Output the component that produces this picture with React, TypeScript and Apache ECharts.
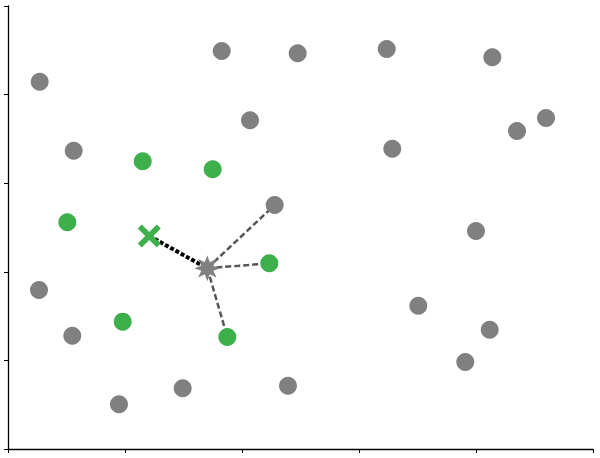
import React, { useEffect, useRef } from "react";
import * as echarts from "echarts";

const grayPoints: number[][] = [
  [0.542, 8.291], [3.653, 8.984], [4.952, 8.932], [4.137, 7.42], [1.123, 6.734],
  [4.559, 5.508], [6.474, 9.029], [8.279, 8.842], [6.569, 6.779], [8.701, 7.178],
  [9.197, 7.472], [8.0, 4.921], [0.53, 3.589], [1.099, 2.558], [2.986, 1.37],
  [1.897, 1.009], [4.786, 1.429], [7.014, 3.235], [8.234, 2.693], [7.817, 1.964],
];
const greenPoints: number[][] = [
  [2.303, 6.494], [3.499, 6.314], [1.014, 5.117], [4.467, 4.192], [1.961, 2.875], [3.749, 2.528],
];
const queryPoint: number[] = [2.415, 4.808];
const starPoint: number[] = [3.407, 4.079];
const neighbors: number[][] = [[4.559, 5.508], [4.467, 4.192], [3.749, 2.528]];

const xTicks = [0, 2, 4, 6, 8, 10];
const yTicks = [0, 2, 4, 6, 8, 10];

function starPath(n: number, rOut: number, rIn: number): string {
  const pts: string[] = [];
  for (let i = 0; i < 2 * n; i++) {
    const r = i % 2 === 0 ? rOut : rIn;
    const a = -Math.PI / 2 + (i * Math.PI) / n;
    pts.push(`${(10 + r * Math.cos(a)).toFixed(3)} ${(10 + r * Math.sin(a)).toFixed(3)}`);
  }
  return "path://M" + pts.join(" L") + " Z";
}

function xPath(d: number): string {
  const v = [
    [-1, -1 + d], [-1 + d, -1], [0, -d], [1 - d, -1], [1, -1 + d], [d, 0],
    [1, 1 - d], [1 - d, 1], [0, d], [-1 + d, 1], [-1, 1 - d], [-d, 0],
  ];
  return "path://M" + v.map((p) => `${(p[0] + 1) * 10} ${(p[1] + 1) * 10}`).join(" L") + " Z";
}

export default function App() {
  const ref = useRef<HTMLDivElement>(null);
  useEffect(() => {
    if (!ref.current) return;
    const chart = echarts.init(ref.current, null, { renderer: "svg" });
    const axisCommon = {
      min: 0,
      max: 10,
      interval: 2,
      axisLine: { show: true, lineStyle: { color: "#000", width: 1.3 } },
      axisTick: { show: true, length: 4, lineStyle: { color: "#000", width: 1 } },
      axisLabel: { show: false },
      splitLine: { show: false },
    };
    const lineData = neighbors.map((n) => [starPoint, n]);
    chart.setOption({
      animation: false,
      grid: { left: 8, right: 7, top: 6, bottom: 9 },
      xAxis: { type: "value", ...axisCommon, data: xTicks },
      yAxis: { type: "value", ...axisCommon, data: yTicks },
      series: [
        ...lineData.map((seg) => ({
          type: "line",
          data: seg,
          symbol: "none",
          z: 1,
          lineStyle: { color: "#555555", width: 2.5, type: [6, 3] },
        })),
        {
          type: "line",
          data: [queryPoint, starPoint],
          symbol: "none",
          z: 1,
          lineStyle: { color: "#000000", width: 4, type: [4, 2] },
        },
        {
          type: "scatter",
          data: grayPoints,
          symbol: "circle",
          symbolSize: 18,
          z: 2,
          itemStyle: { color: "#808080", opacity: 1 },
        },
        {
          type: "scatter",
          data: greenPoints,
          symbol: "circle",
          symbolSize: 18,
          z: 2,
          itemStyle: { color: "#3daf4b", opacity: 1 },
        },
        {
          type: "scatter",
          data: [queryPoint],
          symbol: xPath(0.35),
          symbolSize: 23,
          z: 3,
          itemStyle: { color: "#3daf4b", opacity: 1 },
        },
        {
          type: "scatter",
          data: [starPoint],
          symbol: starPath(8, 10, 5),
          symbolSize: 26,
          z: 3,
          itemStyle: { color: "#808080", opacity: 1 },
        },
      ],
    });
    return () => chart.dispose();
  }, []);
  return <div ref={ref} style={{ width: 600, height: 458, position: "absolute", left: 0, top: 0 }} />;
}
